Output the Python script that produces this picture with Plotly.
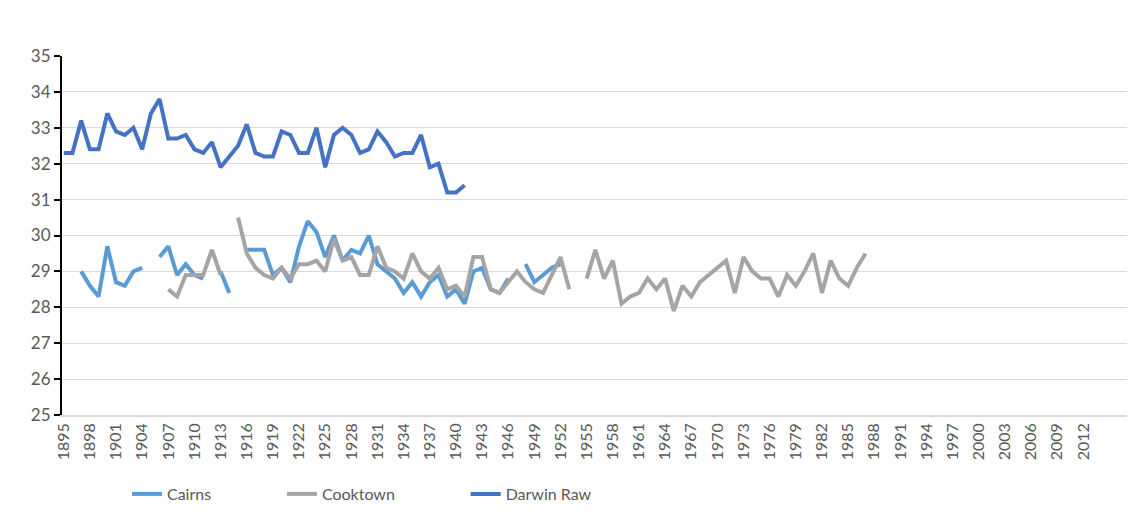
import plotly.graph_objects as go

# years on the category axis
anos = list(range(1895, 1988))

# Darwin Raw, 1895-1941
darwin = [32.3, 32.3, 33.2, 32.4, 32.4, 33.4, 32.9, 32.8, 33.0, 32.4,
          33.4, 33.8, 32.7, 32.7, 32.8, 32.4, 32.3, 32.6, 31.9, 32.2,
          32.5, 33.1, 32.3, 32.2, 32.2, 32.9, 32.8, 32.3, 32.3, 33.0,
          31.9, 32.8, 33.0, 32.8, 32.3, 32.4, 32.9, 32.6, 32.2, 32.3,
          32.3, 32.8, 31.9, 32.0, 31.2, 31.2, 31.4]

# Cairns, 1895-1952 (None = sem dado)
cairns = [None, None, 29.0, 28.6, 28.3, 29.7, 28.7, 28.6, 29.0, 29.1,
          None, 29.4, 29.7, 28.9, 29.2, 28.9, 28.8, None, 29.0, 28.4,
          None, 29.6, 29.6, 29.6, 28.9, 29.1, 28.7, 29.7, 30.4, 30.1,
          29.4, 30.0, 29.3, 29.6, 29.5, 30.0, 29.2, 29.0, 28.8, 28.4,
          28.7, 28.3, 28.7, 28.9, 28.3, 28.5, 28.1, 29.0, 29.1, 28.5,
          28.4, 28.8, None, 29.2, 28.7, 28.9, 29.1, 29.2]

# Cooktown, 1895-1987
cooktown = [None] * 12 + [
    28.5, 28.3, 28.9, 28.9, 28.9, 29.6, 28.9, None,
    30.5, 29.5, 29.1, 28.9, 28.8, 29.1, 28.8, 29.2, 29.2, 29.3,
    29.0, 29.9, 29.3, 29.4, 28.9, 28.9, 29.7, 29.1, 29.0, 28.8,
    29.5, 29.0, 28.8, 29.1, 28.5, 28.6, 28.3, 29.4, 29.4, 28.5,
    28.4, 28.7, 29.0, 28.7, 28.5, 28.4, 28.9, 29.4, 28.5, None,
    28.8, 29.6, 28.8, 29.3, 28.1, 28.3, 28.4, 28.8, 28.5, 28.8,
    27.9, 28.6, 28.3, 28.7, 28.9, 29.1, 29.3, 28.4, 29.4, 29.0,
    28.8, 28.8, 28.3, 28.9, 28.6, 29.0, 29.5, 28.4, 29.3, 28.8,
    28.6, 29.1, 29.5]

ticks_x = list(range(1895, 2013, 3))

cinza_texto = "#595959"
fonte = "Lato"

fig = go.Figure()

series = [
    ("Cairns", cairns, "#5B9BD5", "legend"),
    ("Cooktown", cooktown, "#A5A5A5", "legend2"),
    ("Darwin Raw", darwin, "#4472C4", "legend3"),
]

for nome, valores, cor, leg in series:
    fig.add_trace(
        go.Scatter(
            x=anos[:len(valores)],
            y=valores,
            mode="lines",
            name=nome,
            line=dict(color=cor, width=4),
            connectgaps=False,
            legend=leg,
            showlegend=True,
        )
    )

estilo_legenda = dict(
    orientation="h",
    yanchor="middle",
    y=-0.22,
    xanchor="left",
    font=dict(family=fonte, size=16, color=cinza_texto),
    bgcolor="rgba(0,0,0,0)",
)

fig.update_layout(
    width=1140,
    height=532,
    margin=dict(l=54, r=21, t=48, b=125),
    paper_bgcolor="white",
    plot_bgcolor="white",
    showlegend=True,
    font=dict(family=fonte, color=cinza_texto),
    legend=dict(estilo_legenda, x=0.061),
    legend2=dict(estilo_legenda, x=0.2065),
    legend3=dict(estilo_legenda, x=0.379),
    xaxis=dict(
        range=[1894.8, 2017],
        tickmode="array",
        tickvals=ticks_x,
        ticktext=[str(a) for a in ticks_x],
        tickangle=-90,
        tickfont=dict(family=fonte, size=16, color=cinza_texto),
        showgrid=False,
        zeroline=False,
        showline=True,
        linecolor="#d9d9d9",
        linewidth=1.5,
        ticks="",
        automargin=False,
    ),
    yaxis=dict(
        range=[25, 35],
        dtick=1,
        tickfont=dict(family=fonte, size=17, color=cinza_texto),
        showgrid=True,
        gridcolor="#d9d9d9",
        gridwidth=1.3,
        zeroline=False,
        showline=True,
        linecolor="black",
        linewidth=2,
        ticks="outside",
        ticklen=6,
        tickwidth=2,
        tickcolor="black",
        automargin=False,
    ),
)

fig.write_html("out.html")
